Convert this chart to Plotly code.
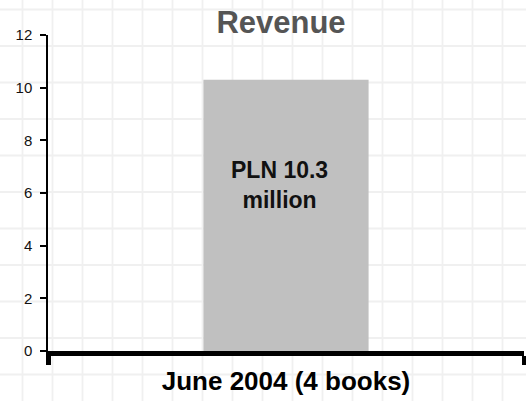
import plotly.graph_objects as go

# Data
categories = ["June 2004 (4 books)"]
revenue_mln = [10.3]
bar_labels = ["PLN 10.3<br>million"]
y_ticks = [0, 2, 4, 6, 8, 10, 12]

W, H = 526, 401
FONT = "Liberation Sans, Arial, sans-serif"

fig = go.Figure()
fig.add_trace(go.Bar(
    x=categories,
    y=revenue_mln,
    marker=dict(color="#c0c0c0", line=dict(width=0)),
    width=0.347,
    hoverinfo="skip",
))

# value label on the bar
for cat, val, txt in zip(categories, revenue_mln, bar_labels):
    fig.add_annotation(
        x=cat, y=val / 2, text=txt, showarrow=False,
        xshift=-7, yshift=30, xref="x", yref="y",
        font=dict(family=FONT, size=23, color="#111", weight="bold"),
    )

# graph-paper background
shapes = []
gx, gy = 22.5, 9.5
while gx < W:
    shapes.append(dict(type="line", xref="paper", yref="paper", layer="below",
                       x0=gx / W, x1=gx / W, y0=0, y1=1,
                       line=dict(color="#f0f0f0", width=1.8)))
    gx += 30
while gy < H:
    shapes.append(dict(type="line", xref="paper", yref="paper", layer="below",
                       x0=0, x1=1, y0=1 - gy / H, y1=1 - gy / H,
                       line=dict(color="#f0f0f0", width=1.8)))
    gy += 36.5

fig.update_layout(
    width=W, height=H,
    margin=dict(l=0, r=0, t=0, b=0),
    paper_bgcolor="white",
    plot_bgcolor="rgba(0,0,0,0)",
    showlegend=False,
    shapes=shapes,
    title=dict(
        text="Revenue", x=281 / W, xanchor="center", y=1 - 22 / H, yanchor="middle",
        xref="paper", yref="paper",
        font=dict(family=FONT, size=31, color="#555555", weight="bold"),
    ),
    xaxis=dict(
        type="category", range=[-0.5, 0.5], domain=[48 / W, 524 / W],
        showgrid=False, zeroline=False,
        showline=True, linecolor="black", linewidth=5,
        ticks="outside", tickson="boundaries", ticklen=9, tickwidth=5, tickcolor="black",
        ticklabelstandoff=3,
        tickfont=dict(family=FONT, size=26, color="black", weight="bold"),
        automargin=False,
    ),
    yaxis=dict(
        range=[0, 12], domain=[(H - 351) / H, (H - 35) / H],
        tickvals=y_ticks, showgrid=False, zeroline=False,
        showline=True, linecolor="black", linewidth=1.5,
        ticks="outside", ticklen=6, tickwidth=1.5, tickcolor="black",
        ticklabelstandoff=5,
        tickfont=dict(family=FONT, size=15, color="#111"),
        automargin=False,
    ),
)

fig.write_html("out.html")
